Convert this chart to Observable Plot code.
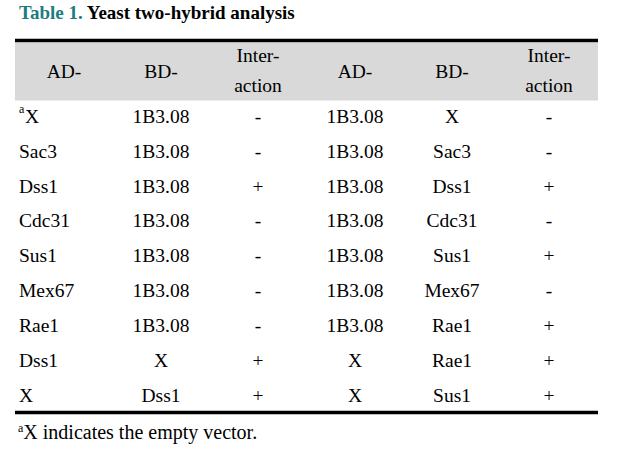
<!DOCTYPE html>
<html><head><meta charset="utf-8">
<script src="https://cdn.jsdelivr.net/npm/d3@7"></script>
<script src="https://cdn.jsdelivr.net/npm/@observablehq/plot@0.6"></script>
<style>
body{margin:0;background:#fff;font-family:"Liberation Serif","Times New Roman",serif;}
#wrap{position:relative;width:618px;height:449px;overflow:hidden;}
#title{position:absolute;left:19px;top:2px;font-size:19px;font-weight:bold;color:#000;white-space:nowrap;}
#title .num{color:#1e7b7f}
#chart{position:absolute;left:0;top:32px;}
#foot{position:absolute;left:18px;top:421px;font-size:20px;white-space:nowrap;}
#foot sup{font-size:12px;vertical-align:7px;line-height:0}
</style></head>
<body>
<div id="wrap">
  <div id="title"><span class="num">Table 1.</span> Yeast two-hybrid analysis</div>
  <div id="chart"></div>
  <div id="foot"><sup>a</sup>X indicates the empty vector.</div>
</div>
<script>
// Column keys and header labels
const columns = ["AD1", "BD1", "INT1", "AD2", "BD2", "INT2"];
const headers = [["AD-"], ["BD-"], ["Inter-", "action"], ["AD-"], ["BD-"], ["Inter-", "action"]];

// Table body, one array per column
const ad1  = ["X", "Sac3", "Dss1", "Cdc31", "Sus1", "Mex67", "Rae1", "Dss1", "X"];
const bd1  = ["1B3.08", "1B3.08", "1B3.08", "1B3.08", "1B3.08", "1B3.08", "1B3.08", "X", "Dss1"];
const int1 = ["-", "-", "+", "-", "-", "-", "-", "+", "+"];
const ad2  = ["1B3.08", "1B3.08", "1B3.08", "1B3.08", "1B3.08", "1B3.08", "1B3.08", "X", "X"];
const bd2  = ["X", "Sac3", "Dss1", "Cdc31", "Sus1", "Mex67", "Rae1", "Rae1", "Sus1"];
const int2 = ["-", "-", "+", "-", "+", "-", "+", "+", "+"];
// footnote markers on first column
const marks1 = ["a", "", "", "", "", "", "", "", ""];

const colData = [ad1, bd1, int1, ad2, bd2, int2];

const cells = [];
colData.forEach((arr, j) => arr.forEach((v, i) => cells.push({col: columns[j], row: i, text: v, first: j === 0, marker: j === 0 ? marks1[i] : ""})));

const headerCells = [];
headers.forEach((lines, j) => {
  const ys = lines.length === 1 ? [-1.29] : [-1.75, -0.89];
  lines.forEach((t, k) => headerCells.push({col: columns[j], row: ys[k], text: t}));
});

const font = '"Liberation Serif","Times New Roman",serif';
const FS = 19.5;

const chart = Plot.plot({
  width: 618,
  height: 386,
  marginLeft: 15,
  marginRight: 20,
  marginTop: 0,
  marginBottom: 0,
  x: {type: "band", domain: columns, range: [14.5, 596.5], padding: 0, axis: null},
  y: {type: "linear", domain: [0, 1], range: [84, 118.875], axis: null},
  style: {fontFamily: font, fontSize: FS + "px", background: "white", overflow: "visible"},
  marks: [
    Plot.ruleY([-1.29], {stroke: "#d9d9d9", strokeWidth: 58}),
    Plot.ruleY([-2.179], {stroke: "#000", strokeWidth: 3.5}),
    Plot.ruleY([8.49], {stroke: "#000", strokeWidth: 3.5}),
    Plot.text(headerCells, {x: "col", y: "row", text: "text", fontSize: FS, fill: "#000"}),
    Plot.text(cells.filter(d => !d.first), {x: "col", y: "row", text: "text", fontSize: FS, fill: "#000"}),
    Plot.text(cells.filter(d => d.first && !d.marker), {x: "col", y: "row", text: "text", fontSize: FS, fill: "#000", textAnchor: "start", dx: -45}),
    Plot.text(cells.filter(d => d.first && d.marker), {x: "col", y: "row", text: "text", fontSize: FS, fill: "#000", textAnchor: "start", dx: -39}),
    Plot.text(cells.filter(d => d.first && d.marker), {x: "col", y: "row", text: "marker", fontSize: 12, fill: "#000", textAnchor: "start", dx: -45, dy: -7})
  ]
});
document.getElementById("chart").appendChild(chart);
</script>
</body></html>
